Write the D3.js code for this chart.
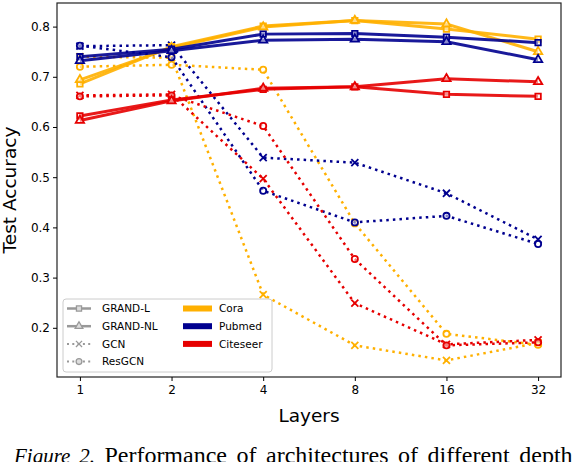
<!DOCTYPE html>
<html>
<head>
<meta charset="utf-8">
<script src="https://cdn.jsdelivr.net/npm/d3@7"></script>
<style>
  body { margin: 0; background: #fff; overflow: hidden; }
  svg { display: block; }
  text { font-family: "DejaVu Sans", sans-serif; }
</style>
</head>
<body>
<div id="chart"></div>
<script>
const layers = [1, 2, 4, 8, 16, 32];
const yTicks = [0.2, 0.3, 0.4, 0.5, 0.6, 0.7, 0.8];

const coraL = [0.686, 0.760, 0.801, 0.812, 0.795, 0.775];
const coraNL = [0.694, 0.758, 0.799, 0.812, 0.805, 0.750];
const coraGCN = [0.740, 0.738, 0.266, 0.165, 0.135, 0.170];
const coraRes = [0.720, 0.724, 0.714, 0.408, 0.188, 0.166];

const pubmedL = [0.740, 0.755, 0.785, 0.786, 0.779, 0.768];
const pubmedNL = [0.732, 0.752, 0.773, 0.775, 0.770, 0.734];
const pubmedGCN = [0.761, 0.763, 0.539, 0.529, 0.468, 0.376];
const pubmedRes = [0.762, 0.739, 0.473, 0.410, 0.423, 0.367];

const citeseerL = [0.622, 0.654, 0.675, 0.680, 0.665, 0.661];
const citeseerNL = [0.613, 0.652, 0.677, 0.680, 0.696, 0.690];
const citeseerGCN = [0.663, 0.665, 0.497, 0.249, 0.167, 0.176];
const citeseerRes = [0.661, 0.663, 0.602, 0.337, 0.165, 0.171];

const methods = ["GRAND-L", "GRAND-NL", "GCN", "ResGCN"];
const datasets = ["Cora", "Pubmed", "Citeseer"];
const colors = { Cora: "#ffb000", Pubmed: "#00008f", Citeseer: "#e60000" };

const series = [
  { d: "Cora", m: "GRAND-L", v: coraL },
  { d: "Cora", m: "GRAND-NL", v: coraNL },
  { d: "Cora", m: "GCN", v: coraGCN },
  { d: "Cora", m: "ResGCN", v: coraRes },
  { d: "Pubmed", m: "GRAND-L", v: pubmedL },
  { d: "Pubmed", m: "GRAND-NL", v: pubmedNL },
  { d: "Pubmed", m: "GCN", v: pubmedGCN },
  { d: "Pubmed", m: "ResGCN", v: pubmedRes },
  { d: "Citeseer", m: "GRAND-L", v: citeseerL },
  { d: "Citeseer", m: "GRAND-NL", v: citeseerNL },
  { d: "Citeseer", m: "GCN", v: citeseerGCN },
  { d: "Citeseer", m: "ResGCN", v: citeseerRes },
];

const width = 576, height = 462;
const margin = { left: 57, right: 15, top: 3, bottom: 85 };

const svg = d3.select("#chart").append("svg")
  .attr("width", width).attr("height", height);

// matplotlib-style 5% margins on both axes
const x = d3.scaleLog().base(2)
  .domain([Math.pow(2, -0.25), Math.pow(2, 5.25)])
  .range([margin.left, width - margin.right]);
const y = d3.scaleLinear()
  .domain([0.102, 0.847])
  .range([height - margin.bottom, margin.top]);

const solid = (m) => m === "GRAND-L" || m === "GRAND-NL";

function markerPath(m, size) {
  const type = { "GRAND-L": d3.symbolSquare, "GRAND-NL": d3.symbolTriangle,
    "GCN": d3.symbolX, "ResGCN": d3.symbolCircle }[m];
  return d3.symbol().type(type).size(size)();
}

const line = d3.line().x((d, i) => x(layers[i])).y((d) => y(d));

const plot = svg.append("g");

// dotted first, solid on top
const order = series.filter((s) => !solid(s.m)).concat(series.filter((s) => solid(s.m)));

order.forEach((s) => {
  const c = colors[s.d];
  const g = plot.append("g");
  g.append("path")
    .datum(s.v)
    .attr("d", line)
    .attr("fill", "none")
    .attr("stroke", c)
    .attr("stroke-width", solid(s.m) ? 3 : 2.5)
    .attr("stroke-dasharray", solid(s.m) ? null : "2.5,4.1")
    .attr("opacity", solid(s.m) ? 0.9 : 1);
  g.selectAll("path.mk")
    .data(s.v)
    .enter()
    .append("path")
    .attr("class", "mk")
    .attr("transform", (d, i) => `translate(${x(layers[i])},${y(d)})`)
    .attr("d", markerPath(s.m, s.m === "GCN" ? 34 : 30))
    .attr("fill", s.m === "GCN" ? c : "#fff")
    .attr("fill-opacity", s.m === "GCN" ? 1 : 0.5)
    .attr("stroke", c)
    .attr("stroke-width", 1.8);
});

// frame
svg.append("rect")
  .attr("x", margin.left).attr("y", margin.top)
  .attr("width", width - margin.right - margin.left)
  .attr("height", height - margin.bottom - margin.top)
  .attr("fill", "none").attr("stroke", "#222").attr("stroke-width", 1.2);

const xAxis = d3.axisBottom(x).tickValues(layers).tickFormat(d3.format("d"))
  .tickSize(4).tickSizeOuter(0);
svg.append("g")
  .attr("transform", `translate(0,${height - margin.bottom})`)
  .call(xAxis)
  .call((g) => g.select(".domain").remove())
  .call((g) => g.selectAll("text").attr("font-size", 12).attr("fill", "#000").attr("dy", "0.85em"));

const yAxis = d3.axisLeft(y).tickValues(yTicks).tickFormat(d3.format(".1f"))
  .tickSize(4).tickSizeOuter(0);
svg.append("g")
  .attr("transform", `translate(${margin.left},0)`)
  .call(yAxis)
  .call((g) => g.select(".domain").remove())
  .call((g) => g.selectAll("text").attr("font-size", 12).attr("fill", "#000").attr("x", -7));

svg.append("text")
  .attr("x", (margin.left + width - margin.right) / 2)
  .attr("y", 421.5)
  .attr("text-anchor", "middle")
  .attr("font-size", 18.5)
  .text("Layers");

svg.append("text")
  .attr("transform", `translate(15.5,${(margin.top + height - margin.bottom) / 2}) rotate(-90)`)
  .attr("text-anchor", "middle")
  .attr("font-size", 18.5)
  .text("Test Accuracy");

// legend
const lg = svg.append("g").attr("transform", "translate(63,299)");
lg.append("rect")
  .attr("width", 209).attr("height", 73).attr("rx", 3)
  .attr("fill", "#fff").attr("fill-opacity", 0.8)
  .attr("stroke", "#ccc").attr("stroke-width", 1);

methods.forEach((m, i) => {
  const yy = 9.5 + i * 17.7;
  lg.append("line")
    .attr("x1", 4).attr("x2", 28).attr("y1", yy).attr("y2", yy)
    .attr("stroke", "#999")
    .attr("stroke-width", solid(m) ? 2.5 : 2)
    .attr("stroke-dasharray", solid(m) ? null : "2,3.3");
  lg.append("path")
    .attr("transform", `translate(16,${yy})`)
    .attr("d", markerPath(m, 26))
    .attr("fill", m === "GCN" ? "#999" : "#ddd")
    .attr("stroke", "#999").attr("stroke-width", 1.3);
  lg.append("text")
    .attr("x", 39).attr("y", yy).attr("dy", "0.35em")
    .attr("font-size", 10.5).text(m);
});

datasets.forEach((dName, i) => {
  const yy = 9.5 + i * 17.7;
  lg.append("rect")
    .attr("x", 120).attr("y", yy - 3).attr("width", 29).attr("height", 6)
    .attr("fill", colors[dName]);
  lg.append("text")
    .attr("x", 156).attr("y", yy).attr("dy", "0.35em")
    .attr("font-size", 10.5).text(dName);
});

// caption (justified in the paper, hence the wider word spacing)
const cap = svg.append("text")
  .attr("x", 14).attr("y", 463)
  .style("font-family", "'Liberation Serif', 'Times New Roman', serif")
  .style("word-spacing", "3.5px")
  .attr("font-size", 24);
cap.append("tspan").attr("font-style", "italic").attr("font-size", 21).text("Figure 2.");
cap.append("tspan").text(" Performance of architectures of different depth");
</script>
</body>
</html>
